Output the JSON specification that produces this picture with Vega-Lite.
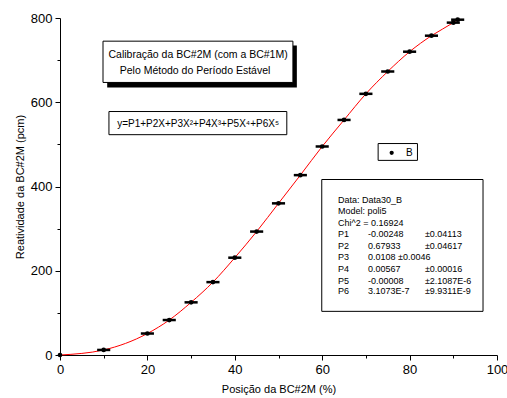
{
  "$schema": "https://vega.github.io/schema/vega-lite/v6.json",
  "width": 437,
  "height": 337,
  "autosize": "none",
  "padding": {"left": 60, "top": 18, "right": 10, "bottom": 43},
  "background": "white",
  "config": {
    "view": {"stroke": null},
    "font": "Liberation Sans",
    "axis": {
      "grid": false,
      "domainColor": "black",
      "tickColor": "black",
      "labelColor": "black",
      "titleColor": "black",
      "labelFont": "Liberation Sans",
      "titleFont": "Liberation Sans",
      "labelFontSize": 13,
      "titleFontSize": 11,
      "titleFontWeight": "normal",
      "labelFlush": false,
      "labelOverlap": false
    }
  },
  "datasets": {
    "points": [
      {"x": 0, "y": 0, "xlo": 0, "xhi": 0},
      {"x": 10, "y": 12, "xlo": 8.5, "xhi": 11.5},
      {"x": 20, "y": 51, "xlo": 18.5, "xhi": 21.5},
      {"x": 25, "y": 83, "xlo": 23.5, "xhi": 26.5},
      {"x": 30, "y": 125, "xlo": 28.5, "xhi": 31.5},
      {"x": 35, "y": 173, "xlo": 33.5, "xhi": 36.5},
      {"x": 40, "y": 231, "xlo": 38.5, "xhi": 41.5},
      {"x": 45, "y": 293, "xlo": 43.5, "xhi": 46.5},
      {"x": 50, "y": 360, "xlo": 48.5, "xhi": 51.5},
      {"x": 55, "y": 427, "xlo": 53.5, "xhi": 56.5},
      {"x": 60, "y": 495, "xlo": 58.5, "xhi": 61.5},
      {"x": 65, "y": 558, "xlo": 63.5, "xhi": 66.5},
      {"x": 70, "y": 620, "xlo": 68.5, "xhi": 71.5},
      {"x": 75, "y": 673, "xlo": 73.5, "xhi": 76.5},
      {"x": 80, "y": 720, "xlo": 78.5, "xhi": 81.5},
      {"x": 85, "y": 758, "xlo": 83.5, "xhi": 86.5},
      {"x": 90, "y": 789, "xlo": 88.5, "xhi": 91.5},
      {"x": 91, "y": 796, "xlo": 89.5, "xhi": 92.5}
    ],
    "shadow": [
      {"x1": 10.8, "x2": 54.2, "y1": 735, "y2": 635}
    ],
    "boxes": [
      {"x1": 9.84, "x2": 53.3, "y1": 745, "y2": 647},
      {"x1": 11.2, "x2": 51.9, "y1": 578, "y2": 523},
      {"x1": 72.8, "x2": 81.8, "y1": 502, "y2": 462},
      {"x1": 59.9, "x2": 96.8, "y1": 416.6, "y2": 103.6}
    ],
    "title": [
      {"x": 31.6, "y": 713, "t": "Calibração da BC#2M (com a BC#1M)"},
      {"x": 30.9, "y": 673, "t": "Pelo Método do Período Estável"}
    ],
    "equation": [
      {"x": 31.6, "y": 548, "t": "y=P1+P2X+P3X²+P4X³+P5X⁴+P6X⁵"}
    ],
    "stats": [
      {"x": 63.6, "y": 367.5, "t": "Data: Data30_B"},
      {"x": 63.6, "y": 341.4, "t": "Model: poli5"},
      {"x": 63.6, "y": 314.5, "t": "Chi^2 = 0.16924"},
      {"x": 63.6, "y": 288.4, "t": "P1"},
      {"x": 70.5, "y": 288.4, "t": "-0.00248"},
      {"x": 83.5, "y": 288.4, "t": "±0.04113"},
      {"x": 63.6, "y": 259.9, "t": "P2"},
      {"x": 70.5, "y": 259.9, "t": "0.67933"},
      {"x": 83.5, "y": 259.9, "t": "±0.04617"},
      {"x": 63.6, "y": 232.2, "t": "P3"},
      {"x": 70.5, "y": 232.2, "t": "0.0108  ±0.0046"},
      {"x": 63.6, "y": 205.3, "t": "P4"},
      {"x": 70.5, "y": 205.3, "t": "0.00567"},
      {"x": 83.5, "y": 205.3, "t": "±0.00016"},
      {"x": 63.6, "y": 176.8, "t": "P5"},
      {"x": 70.5, "y": 176.8, "t": "-0.00008"},
      {"x": 83.5, "y": 176.8, "t": "±2.1087E-6"},
      {"x": 63.6, "y": 151.5, "t": "P6"},
      {"x": 70.5, "y": 151.5, "t": "3.1073E-7"},
      {"x": 83.5, "y": 151.5, "t": "±9.9311E-9"}
    ],
    "legend": [
      {"x": 75.9, "y": 480, "lx": 79.2, "t": "B"}
    ]
  },
  "layer": [
    {
      "data": {"name": "shadow"},
      "mark": {"type": "rect", "fill": "black"},
      "encoding": {
        "x": {"field": "x1", "type": "quantitative", "scale": {"domain": [0, 100], "nice": false},
          "axis": {
            "values": [0, 10, 20, 30, 40, 50, 60, 70, 80, 90, 100],
            "labelExpr": "datum.value % 20 === 0 ? datum.label : ''",
            "tickSize": {"condition": {"test": "datum.value % 20 === 0", "value": 5}, "value": 3},
            "labelPadding": 3,
            "title": "Posição da BC#2M (%)",
            "titlePadding": 7
          }},
        "x2": {"field": "x2"},
        "y": {"field": "y1", "type": "quantitative", "scale": {"domain": [0, 800], "nice": false},
          "axis": {
            "values": [0, 100, 200, 300, 400, 500, 600, 700, 800],
            "labelExpr": "datum.value % 200 === 0 ? datum.label : ''",
            "tickSize": {"condition": {"test": "datum.value % 200 === 0", "value": 5}, "value": 3},
            "labelPadding": 3,
            "title": "Reatividade da BC#2M (pcm)",
            "titlePadding": 5
          }},
        "y2": {"field": "y2"}
      }
    },
    {
      "data": {"name": "boxes"},
      "mark": {"type": "rect", "fill": "white", "stroke": "black", "strokeWidth": 1},
      "encoding": {
        "x": {"field": "x1", "type": "quantitative"},
        "x2": {"field": "x2"},
        "y": {"field": "y1", "type": "quantitative"},
        "y2": {"field": "y2"}
      }
    },
    {
      "data": {"name": "title"},
      "mark": {"type": "text", "align": "center", "baseline": "middle", "fontSize": 10.5, "font": "Liberation Sans", "color": "black"},
      "encoding": {
        "x": {"field": "x", "type": "quantitative"},
        "y": {"field": "y", "type": "quantitative"},
        "text": {"field": "t"}
      }
    },
    {
      "data": {"name": "equation"},
      "mark": {"type": "text", "align": "center", "baseline": "middle", "fontSize": 10, "font": "Liberation Sans", "color": "black"},
      "encoding": {
        "x": {"field": "x", "type": "quantitative"},
        "y": {"field": "y", "type": "quantitative"},
        "text": {"field": "t"}
      }
    },
    {
      "data": {"name": "stats"},
      "mark": {"type": "text", "align": "left", "baseline": "middle", "fontSize": 9, "font": "Liberation Sans", "color": "black"},
      "encoding": {
        "x": {"field": "x", "type": "quantitative"},
        "y": {"field": "y", "type": "quantitative"},
        "text": {"field": "t"}
      }
    },
    {
      "data": {"name": "legend"},
      "mark": {"type": "point", "filled": true, "color": "black", "size": 18, "opacity": 1},
      "encoding": {
        "x": {"field": "x", "type": "quantitative"},
        "y": {"field": "y", "type": "quantitative"}
      }
    },
    {
      "data": {"name": "legend"},
      "mark": {"type": "text", "align": "left", "baseline": "middle", "fontSize": 10, "font": "Liberation Sans", "color": "black"},
      "encoding": {
        "x": {"field": "lx", "type": "quantitative"},
        "y": {"field": "y", "type": "quantitative"},
        "text": {"field": "t"}
      }
    },
    {
      "data": {"name": "points"},
      "mark": {"type": "line", "color": "#ff0000", "strokeWidth": 1, "interpolate": "monotone"},
      "encoding": {
        "x": {"field": "x", "type": "quantitative"},
        "y": {"field": "y", "type": "quantitative"}
      }
    },
    {
      "data": {"name": "points"},
      "mark": {"type": "rule", "color": "black", "strokeWidth": 2.5},
      "encoding": {
        "x": {"field": "xlo", "type": "quantitative"},
        "x2": {"field": "xhi"},
        "y": {"field": "y", "type": "quantitative"}
      }
    },
    {
      "data": {"name": "points"},
      "mark": {"type": "point", "filled": true, "color": "black", "size": 22, "opacity": 1},
      "encoding": {
        "x": {"field": "x", "type": "quantitative"},
        "y": {"field": "y", "type": "quantitative"}
      }
    }
  ]
}
